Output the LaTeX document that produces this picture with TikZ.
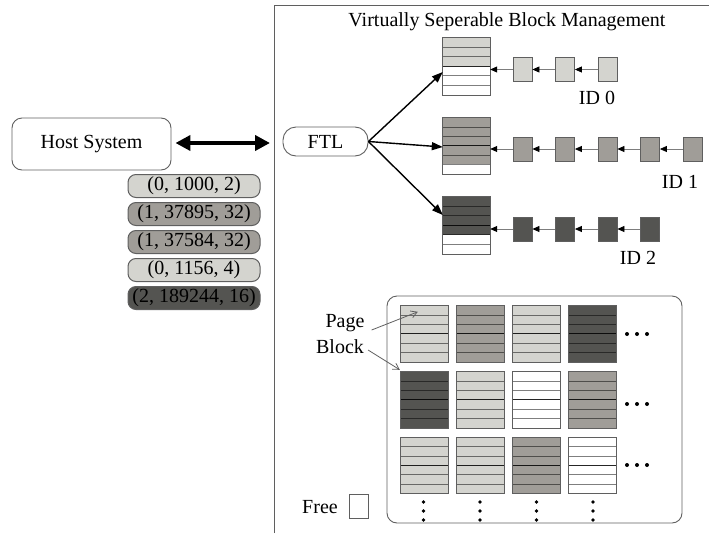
\documentclass[tikz,border=0pt]{standalone}
\usepackage{fontspec}
\setmainfont{Liberation Serif}
\usetikzlibrary{arrows.meta,calc}
\definecolor{cLight}{RGB}{212,212,207}
\definecolor{cMed}{RGB}{160,157,152}
\definecolor{cDark}{RGB}{84,84,81}
\definecolor{cEdge}{RGB}{95,95,95}
\definecolor{cLine}{RGB}{125,125,125}
\newcommand{\pgstack}[7]{% name, cx, cy, w, h, nfilled, color
  \node[blkshape, minimum width=#4, minimum height=#5] (#1) at (#2,#3) {};
  \ifnum#6>0 \fill[#7] (#1.north west) rectangle ($(#1.north east)+(0,#6*#5/6)$);\fi
  \foreach \r in {1,2,4,5}{\draw[rowline] ($(#1.north west)+(0,\r*#5/6)$) -- ($(#1.north east)+(0,\r*#5/6)$);}
  \draw[rowline, draw opacity=0.85] ($(#1.north west)+(0,3*#5/6)$) -- ($(#1.north east)+(0,3*#5/6)$);
  \draw[blkedge] (#1.north west) rectangle (#1.south east);
}
\begin{document}
\begin{tikzpicture}[x=1pt,y=-1pt,
  font=\fontsize{20}{24}\selectfont,
  blkshape/.style={rectangle, fill=white, draw=none, inner sep=0pt},
  rowline/.style={draw=black, draw opacity=0.5, line width=0.8pt},
  blkedge/.style={draw=cEdge, line width=0.9pt},
  chainbox/.style={rectangle, draw=cEdge, line width=0.8pt, minimum width=19pt, minimum height=24pt, inner sep=0pt},
  chainarrow/.style={draw=cLine, line width=0.8pt, -{Triangle[length=7pt,width=6pt,color=black,fill=black]}},
  ftlarrow/.style={line width=1.4pt, -{Triangle[length=11pt,width=8pt]}},
  bigarrow/.style={line width=4pt, {Triangle[length=15pt,width=15pt]}-{Triangle[length=15pt,width=15pt]}},
  notearrow/.style={draw=cEdge, line width=0.8pt, -{Straight Barb[length=6pt,width=7pt]}},
  pill/.style={rectangle, rounded corners=8pt, draw=cEdge, line width=1pt, minimum width=132pt, minimum height=23pt, inner sep=0pt},
  roundbox/.style={rectangle, draw=cEdge, line width=0.9pt, inner sep=0pt},
  txt/.style={inner sep=1pt}
]
\useasboundingbox (0,0) rectangle (709,533);

% outer frame
\coordinate (frameL) at (274,5);
\draw[draw=cEdge, line width=1pt] (274,533) -- (frameL) -- (709,5);
\node[txt] (title) at (507,22) {Virtually Seperable Block Management};

% host and FTL
\node[roundbox, rounded corners=10pt, minimum width=159pt, minimum height=52pt] (host) at (91.5,144) {Host System};
\node[roundbox, rounded corners=13pt, minimum width=85pt, minimum height=29pt] (ftl) at (325.5,141.5) {FTL};
\coordinate (arrR) at (270,143);
\draw[bigarrow] ([xshift=4pt]host.east |- arrR) -- (arrR);

% tuples
\node[pill, fill=cLight] (t1) at (194,186) {(0, 1000, 2)};
\node[pill, fill=cMed]   (t2) at (194,214) {(1, 37895, 32)};
\node[pill, fill=cMed]   (t3) at (194,242) {(1, 37584, 32)};
\node[pill, fill=cLight] (t4) at (194,270) {(0, 1156, 4)};
\node[pill, fill=cDark]  (t5) at (194,298) {(2, 189244, 16)};

% ID stacks
\pgstack{s0}{466.5}{66.5}{47}{57}{3}{cLight}
\pgstack{s1}{466.5}{146}{47}{56}{5}{cMed}
\pgstack{s2}{466.5}{225.5}{47}{57}{4}{cDark}

\draw[ftlarrow] (ftl.east) -- ([yshift=-5.5pt]s0.west);
\draw[ftlarrow] (ftl.east) -- ([yshift=-1pt]s1.west);
\draw[ftlarrow] (ftl.east) -- ([yshift=10.5pt]s2.west);

% chains ID0
\node[chainbox, fill=cLight] (b0a) at (522.5,69.5) {};
\node[chainbox, fill=cLight] (b0b) at (565,69.5) {};
\node[chainbox, fill=cLight] (b0c) at (607.5,69.5) {};
\draw[chainarrow] (b0a.west) -- (b0a.west -| s0.east);
\draw[chainarrow] (b0b.west) -- (b0a.east);
\draw[chainarrow] (b0c.west) -- (b0b.east);
\node[txt] (id0) at (597,98) {ID 0};

% chains ID1
\node[chainbox, fill=cMed] (b1a) at (522.5,149) {};
\node[chainbox, fill=cMed] (b1b) at (565,149) {};
\node[chainbox, fill=cMed] (b1c) at (607.5,149) {};
\node[chainbox, fill=cMed] (b1d) at (650,149) {};
\node[chainbox, fill=cMed] (b1e) at (692.5,149) {};
\draw[chainarrow] (b1a.west) -- (b1a.west -| s1.east);
\draw[chainarrow] (b1b.west) -- (b1a.east);
\draw[chainarrow] (b1c.west) -- (b1b.east);
\draw[chainarrow] (b1d.west) -- (b1c.east);
\draw[chainarrow] (b1e.west) -- (b1d.east);
\node[txt] (id1) at (680,182) {ID 1};

% chains ID2
\node[chainbox, fill=cDark] (b2a) at (522.5,229) {};
\node[chainbox, fill=cDark] (b2b) at (565,229) {};
\node[chainbox, fill=cDark] (b2c) at (607.5,229) {};
\node[chainbox, fill=cDark] (b2d) at (650,229) {};
\draw[chainarrow] (b2a.west) -- (b2a.west -| s2.east);
\draw[chainarrow] (b2b.west) -- (b2a.east);
\draw[chainarrow] (b2c.west) -- (b2b.east);
\draw[chainarrow] (b2d.west) -- (b2c.east);
\node[txt] (id2) at (638,258) {ID 2};

% block grid
\node[roundbox, rounded corners=10pt, minimum width=295pt, minimum height=227pt] (grid) at (534.5,409.5) {};
\pgstack{g11}{424.5}{334}{47}{56}{6}{cLight}
\pgstack{g12}{480.5}{334}{47}{56}{6}{cMed}
\pgstack{g13}{536.5}{334}{47}{56}{6}{cLight}
\pgstack{g14}{592.5}{334}{47}{56}{6}{cDark}
\pgstack{g21}{424.5}{400}{47}{56}{6}{cDark}
\pgstack{g22}{480.5}{400}{47}{56}{6}{cLight}
\pgstack{g23}{536.5}{400}{47}{56}{0}{white}
\pgstack{g24}{592.5}{400}{47}{56}{6}{cMed}
\pgstack{g31}{424.5}{465.5}{47}{56}{6}{cLight}
\pgstack{g32}{480.5}{465.5}{47}{56}{6}{cLight}
\pgstack{g33}{536.5}{465.5}{47}{56}{6}{cMed}
\pgstack{g34}{592.5}{465.5}{47}{56}{0}{white}

% dots
\foreach \yy in {334,404,465}{\foreach \xx in {627,637,647}{\fill (\xx,\yy) circle (2pt);}}
\foreach \xx in {423.5,480,536.5,593}{\foreach \yy in {502,511,520}{\fill (\xx,\yy) circle (1.8pt);}}

% Page / Block notes
\node[txt] (pagetxt) at (345,323) {Page};
\node[txt] (blocktxt) at (340,347) {Block};
\coordinate (pageT) at ([xshift=17pt,yshift=-6pt]g11.north west);
\coordinate (blockT) at ([xshift=-1pt,yshift=2pt]g21.north west);
\draw[notearrow] ([xshift=6pt,yshift=-7pt]pagetxt.east) -- (pageT);
\draw[notearrow] ([xshift=3pt,yshift=-3pt]blocktxt.east) -- (blockT);

% Free legend
\node[txt] (freetxt) at (320,507) {Free};
\node[chainbox, fill=white] (freebox) at (358.5,506) {};
\end{tikzpicture}
\end{document}
